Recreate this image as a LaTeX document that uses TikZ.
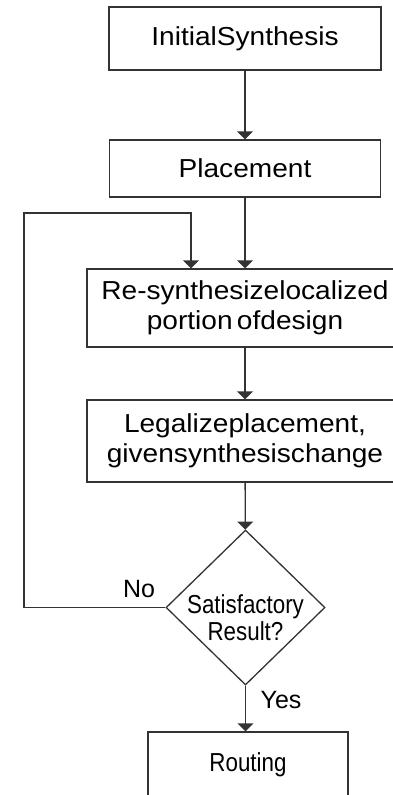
\documentclass[tikz,border=0pt]{standalone}
\usepackage{fontspec}
\setmainfont{Liberation Sans}
\newfontfamily\boxfont[FakeStretch=1.08]{Liberation Sans}
\newfontfamily\narrowfont[FakeStretch=0.86]{Liberation Sans}
\usetikzlibrary{shapes.geometric,arrows.meta}
\begin{document}
\begin{tikzpicture}[x=1pt,y=-1pt,
  line/.style={draw=black!80,line width=1.3pt},
  flow/.style={line,-{Triangle[length=8pt,width=16pt]}},
  stepbox/.style={line,rectangle,inner sep=0pt,align=center,
    font=\boxfont\fontsize{26}{30}\selectfont},
  decision/.style={line,diamond,inner sep=0pt,minimum width=159pt,minimum height=155pt},
  smalltext/.style={inner sep=0pt,align=center,font=\narrowfont\fontsize{26}{27}\selectfont},
  tag/.style={inner sep=0pt,font=\fontsize{25}{28}\selectfont}]
\useasboundingbox (0,0) rectangle (393,795);
\clip (0,0) rectangle (393,795);
\fill[white] (0,0) rectangle (393,795);

\node[stepbox,minimum width=272pt,minimum height=63pt] (init) at (245,38.5) {InitialSynthesis};
\node[stepbox,minimum width=271pt,minimum height=57pt] (place) at (245,168.5) {Placement};
\node[stepbox,minimum width=316pt,minimum height=78pt] (resyn) at (245,308) {Re-synthesizelocalized\\portion\,ofdesign};
\node[stepbox,minimum width=316pt,minimum height=82pt] (legal) at (245,441) {Legalizeplacement,\\givensynthesischange};
\node[decision] (check) at (245.5,607.5) {};
\node[smalltext] (checktext) at (245.5,618) {Satisfactory\\Result?};
\node[stepbox,minimum width=200pt,minimum height=66pt] (route) at (248,765) {};
\node[smalltext] (routetext) at (route.center) {Routing};

\node[tag] (no) at (139,589) {No};
\node[tag] (yes) at (281,700) {Yes};

\coordinate (loopA) at (24,607.5);
\coordinate (loopB) at (24,213);
\coordinate (loopC) at (191,213);

\draw[flow] (init) -- (place);
\draw[flow] (place) -- (resyn);
\draw[flow] (resyn) -- (legal);
\draw[flow] (legal) -- (check);
\draw[flow] (check.south) -- (check.south |- route.north);
\draw[flow] (check.west) -- (loopA) -- (loopB) -- (loopC) -- (loopC |- resyn.north);
\end{tikzpicture}
\end{document}
